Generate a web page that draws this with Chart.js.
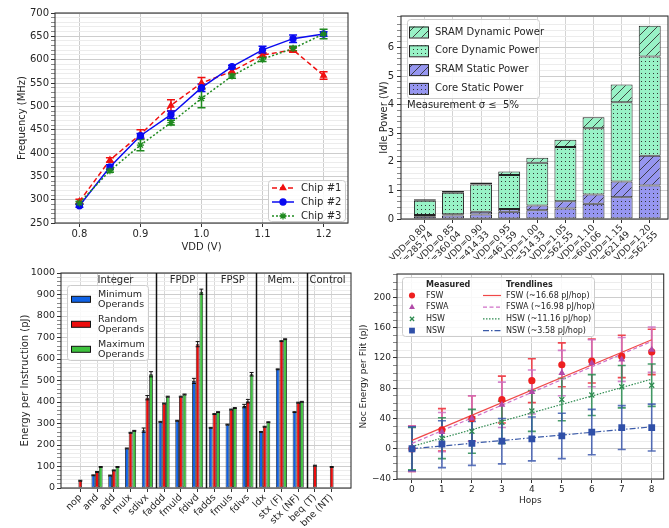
<!DOCTYPE html>
<html>
<head>
<meta charset="utf-8">
<script src="https://cdn.jsdelivr.net/npm/chart.js"></script>
<style>
  body { margin: 0; background: #fff; }
  canvas { position: absolute; left: 0; top: 0; }
</style>
</head>
<body>
<canvas id="freqChart" width="669" height="528"></canvas>
<canvas id="powerChart" width="669" height="528"></canvas>
<canvas id="energyChart" width="669" height="528"></canvas>
<canvas id="nocChart" width="669" height="528"></canvas>
<script>
// ---- frequency vs VDD ----
const vdd = [0.80, 0.85, 0.90, 0.95, 1.00, 1.05, 1.10, 1.15, 1.20];
const vddTicks = [0.8, 0.9, 1.0, 1.1, 1.2];
const chip1Freq = [296, 385, 440, 502, 550, 575, 610, 621, 566];
const chip1Err = [5, 5, 10, 12, 12, 5, 5, 5, 8];
const chip2Freq = [287, 370, 437, 482, 540, 585, 621, 645, 655];
const chip2Err = [3, 5, 5, 8, 8, 3, 8, 8, 5];
const chip3Freq = [293, 362, 417, 465, 517, 565, 601, 624, 655];
const chip3Err = [3, 3, 12, 5, 20, 5, 5, 5, 10];

// ---- idle power (stack segments, W) ----
const powerLabels = ['VDD=0.80', 'VDD=0.85', 'VDD=0.90', 'VDD=0.95', 'VDD=1.00', 'VDD=1.05', 'VDD=1.10', 'VDD=1.15', 'VDD=1.20'];
const powerFreqLabels = ['f=285.74', 'f=360.04', 'f=414.33', 'f=461.59', 'f=514.33', 'f=562.55', 'f=600.06', 'f=621.49', 'f=562.55'];
const coreStatic = [0.10, 0.12, 0.16, 0.25, 0.31, 0.37, 0.53, 0.76, 1.17];
const sramStatic = [0.04, 0.05, 0.09, 0.10, 0.16, 0.25, 0.33, 0.55, 1.04];
const coreDynamic = [0.50, 0.75, 0.96, 1.19, 1.50, 1.90, 2.31, 2.77, 3.47];
const sramDynamic = [0.05, 0.06, 0.07, 0.12, 0.17, 0.25, 0.39, 0.62, 1.08];

// ---- energy per instruction (pJ) ----
const instrNames = ['nop', 'and', 'add', 'mulx', 'sdivx', 'faddd', 'fmuld', 'fdivd', 'fadds', 'fmuls', 'fdivs', 'ldx', 'stx (F)', 'stx (NF)', 'beq (T)', 'bne (NT)'];
const minOps = [null, 59, 58, 184, 269, 308, 313, 498, 280, 295, 381, 261, 552, 353, null, null];
const randOps = [34, 75, 82, 257, 420, 393, 425, 669, 344, 365, 404, 285, 683, 397, 104, 98];
const maxOps = [null, 98, 98, 266, 529, 425, 435, 913, 353, 372, 529, 306, 692, 401, null, null];
const minErr = [null, 2, 2, 2, 10, 2, 2, 12, 2, 2, 8, 2, 2, 2, null, null];
const randErr = [2, 2, 2, 2, 10, 2, 2, 12, 2, 2, 8, 2, 2, 2, 2, 2];
const maxErr = [null, 2, 2, 2, 12, 2, 2, 12, 2, 2, 8, 2, 2, 2, null, null];
const groupSeparators = [4.5, 7.5, 10.5, 13.5];
const groupNames = ['Integer', 'FPDP', 'FPSP', 'Mem.', 'Control'];
const groupCenters = [2.1, 6.1, 9.1, 12, 14.75];

// ---- NoC energy per flit (pJ) ----
const hops = [0, 1, 2, 3, 4, 5, 6, 7, 8];
const fsw = [0, 25, 40, 65, 90, 111, 116, 122, 128];
const fswErr = [30, 28, 30, 31, 29, 29, 29, 28, 30];
const fswa = [0, 22, 40, 58, 75, 100, 113, 118, 131];
const fswaErr = [30, 26, 30, 30, 29, 30, 31, 29, 30];
const hsw = [0, 14, 23, 35, 50, 65, 71, 82, 84];
const hswErr = [28, 27, 29, 28, 27, 28, 27, 28, 28];
const nsw = [0, 6, 7, 10, 13, 17, 22, 28, 28];
const nswErr = [29, 31, 29, 30, 29, 30, 30, 29, 31];
const trendHops = [0, 8];
const fswTrend = [11, 144];
const fswaTrend = [7, 142];
const hswTrend = [3, 92];
const nswTrend = [0, 29];

Chart.defaults.font.family = "'DejaVu Sans', sans-serif";
Chart.defaults.color = '#262626';
Chart.defaults.animation = false;

const TXT = '#262626';
const MAJOR = '#cdcdcd';
const MINOR = '#ececec';

// error bars drawn through the y scale of each dataset
function drawErrorBars(chart) {
  const ctx = chart.ctx;
  chart.data.datasets.forEach((ds, i) => {
    if (!ds.errors) return;
    const meta = chart.getDatasetMeta(i);
    const yScale = chart.scales[meta.yAxisID];
    ctx.save();
    ctx.strokeStyle = ds.errColor || ds.borderColor;
    ctx.lineWidth = ds.errWidth || 1;
    meta.data.forEach((el, k) => {
      const e = ds.errors[k];
      const v = ds.data[k].y;
      if (e == null || v == null) return;
      const x = el.x;
      const y1 = yScale.getPixelForValue(v - e);
      const y2 = yScale.getPixelForValue(v + e);
      const c = ds.errCap || 4;
      ctx.beginPath();
      ctx.moveTo(x, y1); ctx.lineTo(x, y2);
      ctx.moveTo(x - c, y1); ctx.lineTo(x + c, y1);
      ctx.moveTo(x - c, y2); ctx.lineTo(x + c, y2);
      ctx.stroke();
    });
    ctx.restore();
  });
}
const errorBars = {
  id: 'errorBars',
  beforeDatasetsDraw(chart, args, opts) { if (!opts.onTop) drawErrorBars(chart); },
  afterDatasetsDraw(chart, args, opts) { if (opts.onTop) drawErrorBars(chart); }
};

const frame = {
  id: 'frame',
  afterDatasetsDraw(chart) {
    const { ctx, chartArea: a } = chart;
    ctx.save();
    ctx.strokeStyle = '#333';
    ctx.lineWidth = 1.1;
    ctx.strokeRect(a.left, a.top, a.right - a.left, a.bottom - a.top);
    ctx.restore();
  }
};

function legendBox(ctx, x, y, w, h) {
  ctx.save();
  ctx.fillStyle = 'rgba(255,255,255,0.85)';
  ctx.strokeStyle = '#cccccc';
  ctx.lineWidth = 1;
  ctx.beginPath();
  ctx.roundRect(x + 0.5, y + 0.5, w, h, 3);
  ctx.fill();
  ctx.stroke();
  ctx.restore();
}

function hatchPattern(bg, kind) {
  const size = kind === 'dots' ? 4 : 9;
  const c = document.createElement('canvas');
  c.width = size; c.height = size;
  const g = c.getContext('2d');
  g.fillStyle = bg;
  g.fillRect(0, 0, size, size);
  g.fillStyle = '#333';
  g.strokeStyle = '#333';
  if (kind === 'dots') {
    g.fillRect(1, 1, 1, 1);
  } else {
    g.lineWidth = 0.9;
    g.beginPath();
    g.moveTo(0, size); g.lineTo(size, 0);
    g.moveTo(-1, 1); g.lineTo(1, -1);
    g.moveTo(size - 1, size + 1); g.lineTo(size + 1, size - 1);
    g.stroke();
  }
  return g.createPattern(c, 'repeat');
}

function yMinor(major, minorStep) {
  return {
    color: c => Math.abs(c.tick.value / major - Math.round(c.tick.value / major)) < 1e-6 ? MAJOR : MINOR,
    tickColor: c => Math.abs(c.tick.value / major - Math.round(c.tick.value / major)) < 1e-6 ? '#333' : '#888',
    tickLength: 4
  };
}
function isMajor(v, major) {
  return Math.abs(v / major - Math.round(v / major)) < 1e-6;
}

// ================= top-left: frequency =================
const freqStyles = [
  { label: 'Chip #1', values: chip1Freq, errors: chip1Err, color: '#f01010', point: 'triangle', radius: 3.2, dash: [5, 3], order: 2 },
  { label: 'Chip #2', values: chip2Freq, errors: chip2Err, color: '#0a0af0', point: 'circle', radius: 3, dash: [], order: 1 },
  { label: 'Chip #3', values: chip3Freq, errors: chip3Err, color: '#1f8a1f', point: 'star', radius: 3.6, dash: [2, 2], order: 0 }
];

new Chart(document.getElementById('freqChart'), {
  type: 'scatter',
  data: {
    datasets: freqStyles.map(s => ({
      label: s.label,
      data: vdd.map((x, i) => ({ x: x, y: s.values[i] })),
      errors: s.errors,
      errCap: 4,
      errWidth: 1.5,
      showLine: true,
      borderColor: s.color,
      backgroundColor: s.color,
      borderWidth: 1.5,
      borderDash: s.dash,
      pointStyle: s.point,
      pointRadius: s.radius,
      pointBorderWidth: 1.3,
      order: s.order
    }))
  },
  options: {
    responsive: false,
    layout: { padding: { left: 10, top: 13, right: 321, bottom: 273 } },
    plugins: {
      legend: { display: false },
      tooltip: { enabled: false },
      errorBars: { onTop: false }
    },
    scales: {
      x: {
        type: 'linear', min: 0.76, max: 1.24,
        afterBuildTicks: s => { s.ticks = vddTicks.map(v => ({ value: v })); },
        afterFit: s => { s.height = 32; },
        border: { display: false },
        grid: { color: MAJOR, tickLength: 4, tickColor: '#333' },
        ticks: { padding: 1, color: TXT, font: { size: 10 }, callback: v => v.toFixed(1) },
        title: { display: true, text: 'VDD (V)', color: TXT, font: { size: 10 }, padding: { top: 0, bottom: 2 } }
      },
      y: {
        min: 250, max: 700,
        afterFit: s => { s.width = 45; },
        border: { display: false },
        grid: yMinor(50),
        ticks: { stepSize: 10, autoSkip: false, padding: 2, color: TXT, font: { size: 10 }, callback: v => isMajor(v, 50) ? v : '' },
        title: { display: true, text: 'Frequency (MHz)', color: TXT, font: { size: 10 }, padding: { top: 6, bottom: 0 } }
      }
    }
  },
  plugins: [errorBars, frame, {
    id: 'freqLegend',
    afterDraw(chart) {
      const { ctx, chartArea: a } = chart;
      const x0 = a.right - 80, y0 = a.bottom - 43;
      legendBox(ctx, x0, y0, 77, 41);
      chart.data.datasets.forEach((ds, i) => {
        const y = y0 + 8 + i * 14;
        ctx.save();
        ctx.strokeStyle = ds.borderColor;
        ctx.fillStyle = ds.backgroundColor;
        ctx.lineWidth = 1.5;
        ctx.setLineDash(ds.borderDash);
        ctx.beginPath();
        ctx.moveTo(x0 + 4, y); ctx.lineTo(x0 + 26, y);
        ctx.stroke();
        ctx.setLineDash([]);
        ctx.lineWidth = 1.3;
        Chart.helpers.drawPoint(ctx, { pointStyle: ds.pointStyle, radius: ds.pointRadius, rotation: 0, borderWidth: 1.3 }, x0 + 15, y);
        ctx.fillStyle = TXT;
        ctx.font = "10px 'DejaVu Sans'";
        ctx.textBaseline = 'middle';
        ctx.fillText(ds.label, x0 + 33, y);
        ctx.restore();
      });
    }
  }]
});

// ================= top-right: idle power =================
const GREEN = '#98f2c6';
const PURPLE = '#9696f0';
const powerSeries = [
  { label: 'Core Static Power', values: coreStatic, fill: hatchPattern(PURPLE, 'dots') },
  { label: 'SRAM Static Power', values: sramStatic, fill: hatchPattern(PURPLE, 'hatch') },
  { label: 'Core Dynamic Power', values: coreDynamic, fill: hatchPattern(GREEN, 'dots') },
  { label: 'SRAM Dynamic Power', values: sramDynamic, fill: hatchPattern(GREEN, 'hatch') }
];

new Chart(document.getElementById('powerChart'), {
  type: 'bar',
  data: {
    datasets: powerSeries.map(s => ({
      label: s.label,
      data: s.values.map((v, i) => ({ x: i, y: v })),
      backgroundColor: s.fill,
      borderColor: '#222',
      borderWidth: 1,
      borderSkipped: false,
      barPercentage: 0.78,
      categoryPercentage: 1
    }))
  },
  options: {
    responsive: false,
    layout: { padding: { left: 372, top: 16, right: 1, bottom: 269 } },
    plugins: { legend: { display: false }, tooltip: { enabled: false } },
    scales: {
      x: {
        type: 'linear', min: -0.85, max: 8.65, stacked: true, offset: false,
        afterBuildTicks: s => { s.ticks = powerLabels.map((_, i) => ({ value: i })); },
        afterFit: s => { s.height = 40; },
        border: { display: false },
        grid: { offset: false, color: '#d4d4d4', tickLength: 4, tickColor: '#333' },
        ticks: { autoSkip: false, minRotation: 45, maxRotation: 45, padding: 0, color: TXT, font: { size: 9, lineHeight: 1.05 },
          callback: v => [powerLabels[v], powerFreqLabels[v]] }
      },
      y: {
        min: 0, max: 7.1, stacked: true,
        afterFit: s => { s.width = 29; },
        border: { display: false },
        grid: yMinor(1),
        ticks: { stepSize: 0.2, autoSkip: false, padding: 3, color: TXT, font: { size: 10 }, callback: v => isMajor(v, 1) ? Math.round(v) : '' },
        title: { display: true, text: 'Idle Power (W)', color: TXT, font: { size: 10 }, padding: { top: 6, bottom: 0 } }
      }
    }
  },
  plugins: [frame, {
    id: 'powerLegend',
    afterDraw(chart) {
      const { ctx, chartArea: a } = chart;
      const x0 = a.left + 6, y0 = a.top + 3;
      legendBox(ctx, x0, y0, 132, 79);
      const items = chart.data.datasets.slice().reverse();
      items.forEach((ds, j) => {
        const y = y0 + 13 + j * 18.8;
        ctx.save();
        ctx.fillStyle = ds.backgroundColor;
        ctx.fillRect(x0 + 2, y - 5.5, 19, 11);
        ctx.strokeStyle = '#222';
        ctx.lineWidth = 1;
        ctx.strokeRect(x0 + 2.5, y - 5, 19, 11);
        ctx.fillStyle = TXT;
        ctx.font = "10px 'DejaVu Sans'";
        ctx.textBaseline = 'middle';
        ctx.fillText(ds.label, x0 + 28, y);
        ctx.restore();
      });
      ctx.save();
      ctx.fillStyle = TXT;
      ctx.font = "10px 'DejaVu Sans'";
      ctx.textBaseline = 'middle';
      ctx.fillText('Measurement \u03c3 \u2264  5%', x0, y0 + 86);
      ctx.restore();
    }
  }]
});

// ================= bottom-left: energy per instruction =================
const energySeries = [
  { label: 'Minimum Operands', values: minOps, errors: minErr, color: '#0f62e6' },
  { label: 'Random Operands', values: randOps, errors: randErr, color: '#ec0c0c' },
  { label: 'Maximum Operands', values: maxOps, errors: maxErr, color: '#3ec23e' }
];

new Chart(document.getElementById('energyChart'), {
  type: 'bar',
  data: {
    datasets: energySeries.map(s => ({
      label: s.label,
      data: s.values.map((v, i) => ({ x: i, y: v })),
      errors: s.errors,
      errColor: '#111',
      errCap: 2,
      errWidth: 1,
      backgroundColor: s.color,
      borderColor: '#111',
      borderWidth: 0.8,
      borderSkipped: false,
      barPercentage: 1,
      categoryPercentage: 0.66
    }))
  },
  options: {
    responsive: false,
    layout: { padding: { left: 13, top: 273, right: 318, bottom: 2 } },
    plugins: { legend: { display: false }, tooltip: { enabled: false }, errorBars: { onTop: true } },
    scales: {
      x: {
        type: 'linear', min: -1.15, max: 16.15, offset: false,
        afterBuildTicks: s => { s.ticks = instrNames.map((_, i) => ({ value: i })); },
        afterFit: s => { s.height = 38; },
        border: { display: false },
        grid: { offset: false, color: '#d8d8d8', tickLength: 4, tickColor: '#333' },
        ticks: { autoSkip: false, minRotation: 45, maxRotation: 45, padding: 0, color: TXT, font: { size: 9.5 }, callback: v => instrNames[v] }
      },
      y: {
        min: 0, max: 1000,
        afterFit: s => { s.width = 48; },
        border: { display: false },
        grid: yMinor(100),
        ticks: { stepSize: 20, autoSkip: false, padding: 2, color: TXT, font: { size: 9.5 }, callback: v => isMajor(v, 100) ? v : '' },
        title: { display: true, text: 'Energy per Instruction (pJ)', color: TXT, font: { size: 10 }, padding: { top: 6, bottom: 0 } }
      }
    }
  },
  plugins: [errorBars, frame, {
    id: 'energyExtras',
    afterDraw(chart) {
      const { ctx, chartArea: a } = chart;
      const xs = chart.scales.x;
      ctx.save();
      ctx.strokeStyle = '#111';
      ctx.lineWidth = 1.5;
      groupSeparators.forEach(v => {
        const px = Math.round(xs.getPixelForValue(v)) + 0.5;
        ctx.beginPath(); ctx.moveTo(px, a.top); ctx.lineTo(px, a.bottom); ctx.stroke();
      });
      ctx.fillStyle = TXT;
      ctx.font = "10px 'DejaVu Sans'";
      ctx.textAlign = 'center';
      ctx.textBaseline = 'middle';
      groupNames.forEach((n, i) => ctx.fillText(n, xs.getPixelForValue(groupCenters[i]), a.top + 7));
      ctx.restore();

      const x0 = a.left + 6, y0 = a.top + 12;
      legendBox(ctx, x0, y0, 81, 75);
      chart.data.datasets.forEach((ds, j) => {
        const y = y0 + 14.3 + j * 25;
        ctx.save();
        ctx.fillStyle = ds.backgroundColor;
        ctx.fillRect(x0 + 4, y - 3, 19, 6);
        ctx.strokeStyle = '#111';
        ctx.lineWidth = 1;
        ctx.strokeRect(x0 + 4.5, y - 3, 19, 6);
        ctx.fillStyle = TXT;
        ctx.font = "9.5px 'DejaVu Sans'";
        ctx.textBaseline = 'middle';
        const parts = ds.label.split(' ');
        ctx.fillText(parts[0], x0 + 31, y - 5.2);
        ctx.fillText(parts[1], x0 + 31, y + 5.2);
        ctx.restore();
      });
    }
  }]
});

// ================= bottom-right: NoC energy per flit =================
const nocMeasured = [
  { label: 'FSW', values: fsw, errors: fswErr, color: '#ee2020', err: 'rgba(236,40,50,0.85)', point: 'circle', radius: 3.6, order: 3 },
  { label: 'FSWA', values: fswa, errors: fswaErr, color: '#b04aa8', err: 'rgba(205,110,195,0.85)', point: 'triangle', radius: 4, order: 2 },
  { label: 'HSW', values: hsw, errors: hswErr, color: '#2e8b50', err: 'rgba(40,140,80,0.85)', point: 'crossRot', radius: 3.5, order: 1 },
  { label: 'NSW', values: nsw, errors: nswErr, color: '#2f4fa8', err: 'rgba(50,80,170,0.8)', point: 'rect', radius: 4.8, order: 0 }
];
const nocTrends = [
  { label: 'FSW (~16.68 pJ/hop)', values: fswTrend, color: '#f04848', dash: [] },
  { label: 'FSWA (~16.98 pJ/hop)', values: fswaTrend, color: '#d070c8', dash: [4, 2.5] },
  { label: 'HSW (~11.16 pJ/hop)', values: hswTrend, color: '#2e8b50', dash: [1.5, 1.5] },
  { label: 'NSW (~3.58 pJ/hop)', values: nswTrend, color: '#3a5aa8', dash: [6, 2, 1.5, 2] }
];

new Chart(document.getElementById('nocChart'), {
  type: 'scatter',
  data: {
    datasets: nocMeasured.map(s => ({
      label: s.label,
      data: hops.map((h, i) => ({ x: h, y: s.values[i] })),
      errors: s.errors,
      errColor: s.err,
      errCap: 4,
      errWidth: 1.6,
      borderColor: s.color,
      backgroundColor: s.color,
      pointStyle: s.point,
      pointRadius: s.radius,
      pointBorderWidth: s.point === 'crossRot' ? 1.3 : 0,
      order: s.order,
      measured: true
    })).concat(nocTrends.map((s, k) => ({
      label: s.label,
      data: trendHops.map((h, i) => ({ x: h, y: s.values[i] })),
      showLine: true,
      borderColor: s.color,
      borderWidth: 1.2,
      borderDash: s.dash,
      pointRadius: 0,
      order: 4 + k
    })))
  },
  options: {
    responsive: false,
    layout: { padding: { left: 352, top: 274, right: 1, bottom: 20 } },
    plugins: { legend: { display: false }, tooltip: { enabled: false }, errorBars: { onTop: false } },
    scales: {
      x: {
        type: 'linear', min: -0.5, max: 8.4,
        afterBuildTicks: s => { s.ticks = hops.map(h => ({ value: h })); },
        afterFit: s => { s.height = 29; },
        border: { display: false },
        grid: { color: MAJOR, tickLength: 4, tickColor: '#333' },
        ticks: { padding: 1, color: TXT, font: { size: 9 } },
        title: { display: true, text: 'Hops', color: TXT, font: { size: 9 }, padding: { top: 0, bottom: 2 } }
      },
      y: {
        min: -40, max: 231,
        afterFit: s => { s.width = 45; },
        border: { display: false },
        grid: yMinor(40),
        ticks: { stepSize: 10, autoSkip: false, padding: 2, color: TXT, font: { size: 9 },
          callback: v => isMajor(v, 40) ? (v < 0 ? '\u2212' + Math.abs(v) : v) : '' },
        title: { display: true, text: 'Noc Energy per Flit (pJ)', color: TXT, font: { size: 9 }, padding: { top: 6, bottom: 0 } }
      }
    }
  },
  plugins: [errorBars, frame, {
    id: 'nocLegend',
    afterDraw(chart) {
      const { ctx, chartArea: a } = chart;
      const x0 = a.left + 5, y0 = a.top + 3;
      legendBox(ctx, x0, y0, 192, 59);
      ctx.save();
      ctx.fillStyle = TXT;
      ctx.font = "bold 8px 'DejaVu Sans'";
      ctx.textBaseline = 'middle';
      ctx.fillText('Measured', x0 + 24, y0 + 8);
      ctx.fillText('Trendlines', x0 + 104, y0 + 8);
      ctx.restore();
      const ds = chart.data.datasets;
      for (let j = 0; j < 4; j++) {
        const m = ds[j], t = ds[j + 4];
        const y = y0 + 18.5 + j * 11.7;
        ctx.save();
        ctx.fillStyle = m.backgroundColor;
        ctx.strokeStyle = m.borderColor;
        ctx.lineWidth = m.pointBorderWidth || 1;
        Chart.helpers.drawPoint(ctx, { pointStyle: m.pointStyle, radius: m.pointRadius * 0.85, rotation: 0, borderWidth: m.pointBorderWidth }, x0 + 10, y);
        ctx.strokeStyle = t.borderColor;
        ctx.lineWidth = 1.2;
        ctx.setLineDash(t.borderDash);
        ctx.beginPath(); ctx.moveTo(x0 + 81, y); ctx.lineTo(x0 + 99, y); ctx.stroke();
        ctx.setLineDash([]);
        ctx.fillStyle = TXT;
        ctx.font = "8px 'DejaVu Sans'";
        ctx.textBaseline = 'middle';
        ctx.fillText(m.label, x0 + 24, y);
        ctx.fillText(t.label, x0 + 104, y);
        ctx.restore();
      }
    }
  }]
});
</script>
</body>
</html>
